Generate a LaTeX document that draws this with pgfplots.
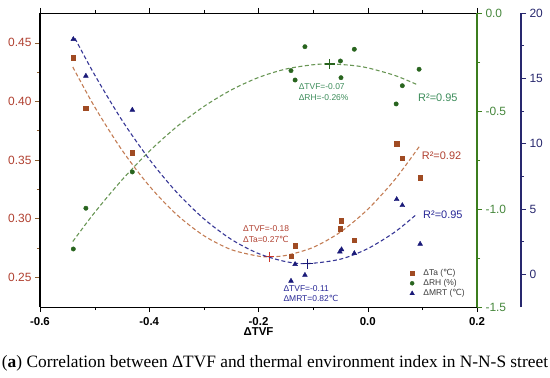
\documentclass[border=0pt]{standalone}
\usepackage{pgfplots}
\pgfplotsset{compat=1.18}
\usepackage{fontspec}
\setmainfont{Liberation Sans}
\newfontfamily\capfont{Liberation Serif}
\newfontfamily\dejavu{DejaVu Sans}
\newcommand{\degC}{{\dejavu ℃}}
\definecolor{tacol}{RGB}{160,75,35}
\definecolor{tacurve}{RGB}{195,125,85}
\definecolor{talab}{RGB}{176,64,48}
\definecolor{taaxis}{RGB}{140,95,50}
\definecolor{tacross}{RGB}{205,55,40}
\definecolor{rhcol}{RGB}{40,100,30}
\definecolor{rhcurve}{RGB}{105,150,85}
\definecolor{rhaxis}{RGB}{60,125,30}
\definecolor{rhlab}{RGB}{70,135,60}
\definecolor{rhtext}{RGB}{60,140,90}
\definecolor{mrtcol}{RGB}{25,25,120}
\definecolor{mrtcurve}{RGB}{55,55,150}
\definecolor{mrtaxis}{RGB}{40,40,110}
\definecolor{mrttext}{RGB}{40,40,150}
\definecolor{leg}{RGB}{60,60,60}
\begin{document}
\begin{tikzpicture}
\pgfplotsset{
  base/.style={width=437bp,height=294bp,scale only axis,xmin=-0.6,xmax=0.2,
    at={(0,0)},anchor=south west,
    /pgf/number format/assume math mode=true,
    tick align=outside, major tick length=5bp, minor tick length=3bp,
    tick label style={font=\fontsize{12}{12}\selectfont}},
  dsh/.style={dash pattern=on 4bp off 2.5bp, line width=1.1bp, smooth},
}
% ---------------- Ta (left axis) ----------------
\begin{axis}[base, ymin=0.2245, ymax=0.4755, axis y line*=left,
  xtick={-0.6,-0.4,-0.2,0,0.2}, minor x tick num=1,
  xticklabel style={font=\fontsize{11.5}{12}\selectfont\bfseries, yshift=-2bp,
    /pgf/number format/.cd, fixed, fixed zerofill, precision=1},
  xlabel={ΔTVF},
  xlabel style={font=\fontsize{11.5}{12}\selectfont\bfseries, at={(axis description cs:0.5,-0.0835)}, anchor=center},
  ytick={0.25,0.30,0.35,0.40,0.45}, minor y tick num=1,
  yticklabel style={color=talab, /pgf/number format/.cd, fixed, fixed zerofill, precision=2},
  y axis line style={taaxis, line width=1.3bp},
  ytick style={taaxis, semithick},
  xtick style={black},
  axis line style={black}]
\addplot[tacurve, dsh, forget plot] coordinates {
(-0.54,0.4294) (-0.50,0.3954) (-0.45,0.3585) (-0.40,0.3279) (-0.35,0.3035)
(-0.30,0.2854) (-0.25,0.2735) (-0.20,0.2679) (-0.18,0.2674) (-0.15,0.2685)
(-0.10,0.2754) (-0.05,0.2885) (0.00,0.3079) (0.05,0.3335) (0.096,0.3626)};
\addplot[only marks, mark=square*, mark size=2.2bp, tacol, forget plot] coordinates {
(-0.539,0.4372) (-0.516,0.3944) (-0.431,0.3563) (-0.1405,0.2677) (-0.133,0.2770)
(-0.050,0.2913) (-0.049,0.2983) (-0.0246,0.2816) (0.053,0.3640) (0.0633,0.3514) (0.0959,0.3350)};
\addplot[only marks, mark=+, mark size=5bp, tacross, line width=1.1bp, forget plot] coordinates {(-0.18,0.2674)};
\node[anchor=west, text=talab, font=\fontsize{11}{12}\selectfont, inner sep=0pt] at (axis cs:0.0988,0.3537) {R²=0.92};
\node[anchor=west, text=talab, font=\fontsize{8.5}{9}\selectfont, inner sep=0pt] at (axis cs:-0.2284,0.2918) {ΔTVF=-0.18};
\node[anchor=west, text=talab, font=\fontsize{8.5}{9}\selectfont, inner sep=0pt] at (axis cs:-0.2284,0.2822) {ΔTa=0.27\degC};
\node[anchor=west, text=rhtext, font=\fontsize{11}{12}\selectfont, inner sep=0pt] at (axis cs:0.092,0.4034) {R²=0.95};
\node[anchor=west, text=rhtext, font=\fontsize{8.5}{9}\selectfont, inner sep=0pt] at (axis cs:-0.1266,0.4131) {ΔTVF=-0.07};
\node[anchor=west, text=rhtext, font=\fontsize{8.5}{9}\selectfont, inner sep=0pt] at (axis cs:-0.1266,0.4036) {ΔRH=-0.26\%};
\node[anchor=west, text=mrttext, font=\fontsize{11}{12}\selectfont, inner sep=0pt] at (axis cs:0.1012,0.3035) {R²=0.95};
\node[anchor=west, text=mrttext, font=\fontsize{8.5}{9}\selectfont, inner sep=0pt] at (axis cs:-0.1545,0.2405) {ΔTVF=-0.11};
\node[anchor=west, text=mrttext, font=\fontsize{8.5}{9}\selectfont, inner sep=0pt] at (axis cs:-0.1545,0.2320) {ΔMRT=0.82\degC};
\end{axis}
% ---------------- RH (green right axis) ----------------
\begin{axis}[base, ymin=-1.5, ymax=0, axis y line*=right, axis x line=none,
  ytick={-1.5,-1,-0.5,0}, minor y tick num=1,
  yticklabel style={color=rhlab, /pgf/number format/.cd, fixed, fixed zerofill, precision=1},
  y axis line style={rhaxis, line width=1.3bp},
  ytick style={rhaxis, semithick},
  legend style={at={(0.845,0.136)}, anchor=north west, draw=none, fill=none,
    font=\fontsize{8.5}{9}\selectfont, text=leg, row sep=-1.5bp, inner sep=0pt},
  legend image code/.code={\path (-2.5bp,0bp) (9bp,0bp); \draw[#1] plot coordinates {(0bp,0bp)};},
  legend cell align=left]
\addlegendimage{only marks, mark=square*, mark size=2bp, tacol}
\addlegendentry{ΔTa (\degC)}
\addlegendimage{only marks, mark=*, mark size=2bp, rhcol}
\addlegendentry{ΔRH (\%)}
\addlegendimage{only marks, mark=triangle*, mark size=2.6bp, mrtcol}
\addlegendentry{ΔMRT (\degC)}
\addplot[rhcurve, dsh, forget plot] coordinates {
(-0.54,-1.166) (-0.50,-1.018) (-0.45,-0.852) (-0.40,-0.706) (-0.35,-0.581)
(-0.30,-0.477) (-0.25,-0.393) (-0.20,-0.329) (-0.15,-0.286) (-0.10,-0.264)
(-0.07,-0.260) (-0.03,-0.267) (0.00,-0.280) (0.05,-0.319) (0.09,-0.365)};
\addplot[only marks, mark=*, mark size=2.2bp, rhcol, forget plot] coordinates {
(-0.539,-1.204) (-0.516,-0.996) (-0.431,-0.811) (-0.1405,-0.294) (-0.133,-0.342)
(-0.115,-0.172) (-0.050,-0.245) (-0.049,-0.330) (-0.0246,-0.185) (0.052,-0.464)
(0.0633,-0.371) (0.094,-0.287)};
\addplot[only marks, mark=+, mark size=5bp, rhcol, line width=1.1bp, forget plot] coordinates {(-0.07,-0.26)};
\end{axis}
% ---------------- MRT data ----------------
\begin{axis}[base, ymin=-2.5, ymax=20, hide axis]
\addplot[mrtcurve, dsh, forget plot] coordinates {
(-0.536,18.06) (-0.50,15.27) (-0.45,11.80) (-0.40,8.81) (-0.35,6.29)
(-0.30,4.25) (-0.25,2.68) (-0.20,1.59) (-0.15,0.97) (-0.11,0.82)
(-0.05,1.16) (0.00,1.97) (0.05,3.25) (0.09,4.62)};
\addplot[only marks, mark=triangle*, mark size=2.8bp, mrtcol, forget plot] coordinates {
(-0.539,17.99) (-0.516,15.18) (-0.431,12.58) (-0.1405,-0.51) (-0.133,0.77)
(-0.115,-0.06) (-0.051,1.73) (-0.048,1.90) (-0.0246,1.61) (0.053,5.74)
(0.0633,5.28) (0.0959,2.32)};
\addplot[only marks, mark=+, mark size=5bp, mrtcol, line width=1.1bp, forget plot] coordinates {(-0.11,0.82)};
\end{axis}
% ---------------- MRT offset axis ----------------
\begin{axis}[base, at={(44bp,0)}, ymin=-2.5, ymax=20, axis y line*=right, axis x line=none,
  ytick={0,5,10,15,20}, minor y tick num=1,
  yticklabel style={color=mrtaxis},
  y axis line style={mrtaxis, line width=1.3bp},
  ytick style={mrtaxis, semithick}]
\addplot[draw=none, forget plot] coordinates {(-0.5,0) (0,5)};
\end{axis}
\node[anchor=base] at (235bp,-60bp) {\resizebox{546bp}{!}{\capfont (\textbf{a}) Correlation between ΔTVF and thermal environment index in N-N-S street}};
\pgfresetboundingbox
\path[use as bounding box] (-40bp,-71bp) rectangle (510bp,307bp);
\end{tikzpicture}
\end{document}
